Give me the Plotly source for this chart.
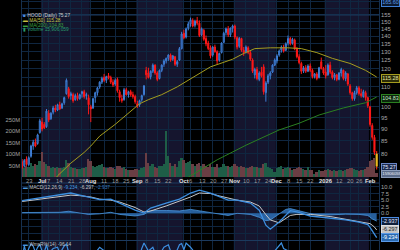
import math
import plotly.graph_objects as go

# ---- data: trading days 2025-06-17 .. 2026-02-05 (index 0..160) ----
opens = [77, 75.5, 78, 76, 79, 83, 84.5, 84, 88.5, 93, 92, 91, 97, 94.5, 97.5, 99.5, 98.5, 101, 99.5, 102,
         106.5, 109, 105.5, 106, 103.5, 105.5, 104, 106.5, 107.5, 105.5, 104.5, 100, 99.5, 104.5, 107, 110, 112.5, 115, 113.5, 116,
         115, 112.5, 111.5, 114, 107.5, 104, 103.5, 108.5, 106, 107.5, 106, 105, 101.5, 101, 103.5, 106, 119, 117.5, 115.5, 118.5,
         122, 117.5, 114.5, 119, 122.5, 124.5, 126, 128, 125.5, 127, 122.5, 125, 132, 142, 139.5, 145.5, 148.5, 151, 147.5, 151,
         149, 141, 144, 138.5, 135.5, 132.5, 128, 133, 130, 125, 129.5, 136, 142.5, 145, 141, 145.5, 147, 139, 133.5, 138.5,
         131, 130, 132.5, 129.5, 125, 116.5, 119.5, 114, 118, 121, 107, 112.5, 116, 118, 122, 124.5, 128, 131, 133, 131,
         135.5, 138.5, 135.5, 137.5, 132, 127, 123, 118.5, 120.5, 118.5, 121.5, 119, 115.5, 117, 115, 124, 120, 118, 116.5, 122,
         118, 115, 116.5, 114, 117.5, 119, 114.5, 117, 110.5, 107, 104, 107, 109.5, 106.5, 105, 107, 104.5, 100, 91.5, 86.5,
         80]
highs = [78, 78, 79, 79, 83.5, 85.5, 86, 88, 94.5, 95, 93, 99, 98.5, 97.5, 100.5, 101, 101.5, 102.5, 102, 105,
         114.5, 110, 107.5, 107, 106.5, 107, 106.5, 108, 108.5, 107, 106, 101, 104.5, 107.5, 110, 113, 115.5, 117, 116, 117.5,
         116, 114, 114.5, 115, 108.5, 106, 109.5, 109.5, 108, 108.5, 107.5, 106, 103, 103.5, 106, 111, 121, 120.5, 119, 123,
         122.5, 118.5, 119.5, 122.5, 125.5, 126.5, 128.5, 129, 128, 127.5, 125, 133, 143, 144.5, 146, 150, 153, 152.5, 151.5, 153.5,
         151, 146, 145, 140.5, 137, 134, 133.5, 134.5, 131, 129.5, 136, 143, 146, 147, 146, 148, 148, 140, 139.5, 139,
         133, 134, 133.5, 130.5, 126, 120.5, 121, 118.5, 121, 122.5, 113, 117, 118.5, 122.5, 126, 128.5, 131.5, 134, 134.5, 136,
         140.5, 139.5, 139, 138.5, 133, 128.5, 124, 121.5, 122, 122.5, 123, 120, 117.5, 118, 121, 126.5, 121, 122, 123, 124,
         119, 117.5, 117, 118, 120.5, 119.5, 118.5, 117.5, 111.5, 107.5, 108, 110.5, 110.5, 109, 108.5, 108, 105, 100.5, 92.5, 87.5,
         81]
lows = [74.5, 75, 75.5, 75.5, 78.5, 81.5, 82.5, 83.5, 88, 89, 90, 90.5, 93, 94, 96.5, 97.5, 98, 98.5, 99, 101,
        106, 104, 103.5, 102, 103, 103, 103.5, 104.5, 104, 103.5, 96.5, 93, 99, 102, 105.5, 109, 111.5, 112.5, 112, 114,
        111.5, 110, 110.5, 107, 102.5, 102, 103, 105.5, 104.5, 105, 104, 101.5, 99.5, 100, 102.5, 105.5, 114, 114.5, 114, 117.5,
        116.5, 113, 114, 118, 121, 123, 124.5, 124, 124.5, 121.5, 121, 124.5, 131.5, 138, 138.5, 144, 146.5, 146, 146, 147.5,
        139.5, 140, 137, 133.5, 131, 126, 127, 129.5, 122.5, 124, 129, 135.5, 140.5, 139.5, 139.5, 142.5, 138, 131.5, 132.5, 130,
        127.5, 129, 128.5, 124.5, 117.5, 114.5, 113.5, 113, 115, 106, 102.5, 111.5, 114, 117.5, 121.5, 123, 127, 129.5, 129.5, 130.5,
        134, 134, 134.5, 131, 126, 122.5, 117, 117.5, 117.5, 118, 118, 114.5, 114.5, 113.5, 114.5, 119.5, 116.5, 114.5, 116, 117,
        114, 113.5, 113, 113.5, 115.5, 113.5, 113, 110.5, 106, 103, 103, 106, 105.5, 104.5, 104.5, 103, 99.5, 91, 85.5, 79.5,
        74.2]
closes = [75, 77.5, 76, 78.5, 83, 84.5, 83, 87.5, 93.6, 90, 90.5, 98, 94, 97, 99.5, 98.5, 101, 99, 101.5, 104.5,
          113.5, 105, 106.5, 103, 105.5, 104, 106, 107.5, 105, 106, 101, 99, 104, 107, 109.5, 112.5, 114.5, 113.5, 115.5, 115,
          112.5, 111, 113.5, 108, 104.5, 103, 108.5, 106, 107.5, 106, 105, 102.5, 100.5, 103, 105.5, 110.5, 116.5, 115, 118.5, 122,
          117.5, 114, 119, 122, 124.5, 126, 128, 125, 127.5, 122.5, 124, 132, 141.5, 139, 145, 148.5, 151.5, 147, 150.5, 149,
          140.5, 145, 138, 135, 132, 127.5, 133, 130, 124.5, 129, 135.5, 142, 145, 141, 145.5, 147, 139.5, 133, 138.5, 131,
          129.5, 133, 129.5, 125.5, 118.5, 119.5, 114.5, 117.5, 116, 107.5, 112, 116, 117.5, 122, 125, 127.5, 130.5, 133, 130.5, 135,
          138.5, 135, 138, 132, 127, 123.5, 118.5, 120.5, 118.5, 121.5, 119, 115.5, 117, 114.5, 120.5, 120, 117.5, 116, 122, 118,
          115, 116.5, 114, 117.5, 119.5, 114.5, 117.5, 111.5, 107, 104, 107, 109.5, 106.5, 105.5, 107.5, 104.5, 100.5, 92, 86.5, 80.5,
          75.27]
volumes_m = [45, 38, 50, 42, 60, 48, 55, 52, 70,
             110, 65, 58, 48, 40, 45, 38, 42,
             40, 38, 45, 75, 60, 45, 40, 38, 35, 36, 40, 38, 45, 80,
             70, 50, 45, 48, 52, 55, 45, 40, 38, 42, 40, 36, 50, 48, 40, 42, 35, 30, 32, 30, 33,
             35, 32, 38, 45, 105, 60, 48, 55, 45, 40, 48, 50, 55, 200, 90, 60, 50, 55, 45, 70, 85,
             75, 60, 65, 70, 55, 50, 55, 60, 50, 55, 48, 45, 55, 45, 45, 55, 40, 42, 58, 50, 48, 42, 50,
             55, 50, 45, 48, 45, 40, 38, 42, 50, 45, 42, 40, 38, 55, 60, 45, 38, 35, 20,
             40, 45, 48, 35, 40, 45, 38, 32, 36, 40, 42, 38, 35, 30, 45, 32, 30, 15, 22, 30, 28, 25,
             30, 35, 32, 28, 30, 25, 32, 30, 28, 30, 35, 40, 38, 35, 30, 28, 32, 30, 36, 45, 70, 75, 85, 15.906059]

tick_idx = [3, 9, 12, 17, 22, 27, 31, 37, 42, 47, 52, 56, 61, 66, 73, 76, 81, 86, 91, 96, 101, 106, 111,
            115, 120, 125, 130, 137, 143, 148, 152, 157]
tick_lbl = ["23", "Jul", "7", "14", "21", "28", "Aug", "11", "18", "25", "Sep", "8", "15", "22", "Oct", "6",
            "13", "20", "27", "Nov", "10", "17", "24", "Dec", "8", "15", "22", "2026", "12", "20", "26", "Feb"]
month_lbls = {"Jul", "Aug", "Sep", "Oct", "Nov", "Dec", "2026", "Feb"}
shaded_months = [(9, 31), (52, 73), (96, 115), (137, 157)]

ma50_idx = [15, 16, 22, 28, 31, 35, 42, 48, 53, 57, 63, 70, 78, 85, 95, 100, 105, 112, 120, 126, 133, 140, 148, 155, 160]
ma50_val = [71.0, 72.0, 76.5, 80.5, 83.0, 87.0, 92.0, 97.0, 101.5, 103.5, 106.0, 110.0, 115.5, 121.0, 125.5, 129.0,
            132.0, 132.5, 132.5, 132.0, 129.5, 126.0, 123.0, 119.0, 115.28]
ma200_idx = [74, 76, 88, 101, 116, 125, 134, 145, 155, 160]
ma200_val = [71.0, 72.0, 77.7, 83.3, 89.6, 92.5, 96.2, 99.5, 102.0, 104.83]

macd_idx = [0, 8, 17, 22, 26, 31, 35, 40, 44, 51, 55, 58, 65, 71, 76, 80, 85, 89, 93, 97, 103, 107, 110, 112,
            116, 121, 124, 130, 139, 146, 152, 156, 157, 158, 159, 160]
macd_val = [4.8, 5.8, 6.9, 7.7, 6.9, 5.8, 5.2, 5.4, 3.9, 1.25, 0.1, 2.0, 3.9, 5.4, 7.7, 8.8, 7.7, 6.2, 5.0, 5.0,
            3.9, 1.2, -4.5, -6.0, -3.3, 1.0, 0.6, -1.0, -1.8, -2.5, -3.3, -4.3, -5.3, -6.6, -8.0, -9.234]
signal_val = [4.5, 5.4, 6.5, 6.9, 6.7, 6.2, 5.4, 5.0, 4.3, 2.2, 0.5, 0.9, 2.8, 4.5, 6.2, 7.7, 7.5, 6.6, 5.8, 5.0,
              4.3, 2.8, -0.5, -2.5, -3.6, -0.8, -0.4, -0.4, -1.2, -2.2, -2.9, -3.5, -3.9, -4.5, -5.2, -6.297]
hist_idx = [0, 8, 17, 21, 26, 30, 35, 40, 44, 51, 55, 58, 65, 71, 76, 80, 85, 89, 93, 97, 103, 107, 110, 112,
            116, 119, 121, 124, 128, 132, 139, 146, 152, 156, 158, 160]
hist_val = [0.3, 0.4, 0.4, 0.8, 0.2, -0.4, -0.2, 0.4, -0.4, -1.0, -0.4, 1.1, 1.1, 0.9, 1.5, 1.0, 0.2, -0.4, -0.8, 0.0,
            -0.4, -1.5, -2.8, -2.5, -0.4, 1.5, 1.8, 1.2, 0.2, -0.5, -0.6, -0.3, -0.4, -0.8, -2.1, -2.937]

wr_idx = [0, 1, 2, 3, 4, 5, 6, 7, 8, 9, 10, 11, 12, 14, 16, 17, 19, 20, 21, 23, 27, 30, 32, 35, 38, 43, 48, 52,
          54, 55, 57, 59, 61, 64, 66, 67, 69, 71, 72, 73, 74, 76, 80, 85, 90, 95, 100, 109, 113, 117, 118, 123,
          131, 135, 140, 144, 149, 154, 160]
wr_val = [-70, -20, -55, -30, -12, -20, -45, -25, -14, -40, -45, -15, -50, -30, -25, -50, -20, -12, -45, -60, -40,
          -80, -60, -25, -45, -80, -70, -90, -30, -8, -40, -25, -70, -25, -15, -40, -55, -15, -10, -35, -8, -25,
          -70, -95, -50, -40, -85, -95, -50, -8, -30, -60, -90, -55, -80, -60, -95, -70, -96.14]

price_ticks = [75, 80, 85, 90, 95, 100, 105, 110, 115, 120, 125, 130, 135, 140, 145, 150, 155, 160, 165]
price_hidden = {75, 105, 115, 160, 165}
vol_ticks_m = [50, 100, 150, 200, 250]
macd_ticks = [-10, -7.5, -5, -2.5, 0, 2.5, 5, 7.5, 10]

# ---- layout geometry (pixels) ----
W, H = 400, 250
L, R = 21, 380
PW = R - L
MAIN_BOTTOM = 177
DATE_ROW = 180.5
MACD_TOP, MACD_BOTTOM = 183, 240
WR_TOP = 241


def pxx(x):
    return (x - L) / PW


def pxy(y):
    return 1 - y / H


N = len(closes)
days = list(range(N))
GRID = '#0f2640'
LBL = '#a6a6a6'
FONT = 'Liberation Sans, Arial, sans-serif'

fig = go.Figure()

# volume (base axis, left)
vol_colors = ['#1e5e47' if c >= o else '#6a3e44' for o, c in zip(opens, closes)]
fig.add_trace(go.Bar(x=days, y=[v * 1e6 for v in volumes_m], marker=dict(color=vol_colors, line_width=0),
                     width=0.8, xaxis='x', yaxis='y', hoverinfo='skip'))

# candles (overlaying price axis, right)
fig.add_trace(go.Candlestick(x=days[:-1], open=opens[:-1], high=highs[:-1], low=lows[:-1], close=closes[:-1],
                             xaxis='x', yaxis='y2', whiskerwidth=0,
                             increasing=dict(line=dict(color='#3f7fd6', width=1), fillcolor='#1b3a6a'),
                             decreasing=dict(line=dict(color='#ff1818', width=1), fillcolor='#ff1818')))
# current (highlighted) bar
fig.add_trace(go.Scatter(x=[days[-1], days[-1]], y=[lows[-1], highs[-1]], mode='lines',
                         line=dict(color='#ff3010', width=1), xaxis='x', yaxis='y2'))
fig.add_trace(go.Scatter(x=[days[-1], days[-1]], y=[opens[-1], closes[-1]], mode='lines',
                         line=dict(color='#e8b820', width=2.2), xaxis='x', yaxis='y2'))

fig.add_trace(go.Scatter(x=ma50_idx, y=ma50_val, mode='lines', line=dict(color='#a49c1e', width=1),
                         xaxis='x', yaxis='y2'))
fig.add_trace(go.Scatter(x=ma200_idx, y=ma200_val, mode='lines', line=dict(color='#2b8020', width=1),
                         xaxis='x', yaxis='y2'))

# MACD panel
fig.add_trace(go.Scatter(x=hist_idx, y=hist_val, mode='lines', fill='tozeroy', fillcolor='rgba(46,112,182,0.85)',
                         line=dict(color='#4a96dc', width=0.8), xaxis='x2', yaxis='y3'))
fig.add_trace(go.Scatter(x=macd_idx, y=signal_val, mode='lines', line=dict(color='#c8c8c8', width=1),
                         xaxis='x2', yaxis='y3'))
fig.add_trace(go.Scatter(x=macd_idx, y=macd_val, mode='lines', line=dict(color='#3d8fe0', width=1.3),
                         xaxis='x2', yaxis='y3'))

# Williams %R panel
fig.add_trace(go.Scatter(x=wr_idx, y=wr_val, mode='lines', line=dict(color='#3d8fe0', width=1.2),
                         xaxis='x3', yaxis='y4'))

shapes = []
for a, b in shaded_months:
    shapes.append(dict(type='rect', xref='x', yref='paper', x0=a - 0.5, x1=b - 0.5, y0=0, y1=1,
                       fillcolor='#15152e', line_width=0, layer='below'))
for yy in [15, MACD_TOP, 240.5]:
    shapes.append(dict(type='line', xref='paper', yref='paper', x0=0, x1=1, y0=pxy(yy), y1=pxy(yy),
                       line=dict(color='#1c3a5e', width=1)))
for xx in [L + 0.5, R - 0.5]:
    shapes.append(dict(type='line', xref='paper', yref='paper', x0=pxx(xx), x1=pxx(xx), y0=0, y1=1,
                       line=dict(color='#16304e', width=1)))

ann = []

# date labels under the price panel
for ti, tl in zip(tick_idx, tick_lbl):
    is_month = tl in month_lbls
    ann.append(dict(xref='x', yref='paper', x=ti, y=pxy(DATE_ROW), text='<b>%s</b>' % tl if is_month else tl,
                    showarrow=False, xanchor='center', yanchor='middle', borderpad=0,
                    font=dict(family=FONT, size=5.8, color='#e0e0e0' if is_month else '#9a9a9a')))


def text_at(x, y, txt, color, size=4.8):
    ann.append(dict(xref='paper', yref='paper', x=pxx(x), y=pxy(y), text=txt, showarrow=False,
                    xanchor='left', yanchor='middle', borderpad=0,
                    font=dict(family=FONT, size=size, color=color)))


text_at(21.5, 15.5, '<span style="color:#4a8ae0">■</span> HOOD (Daily) 75.27', '#d0d0d0')
text_at(21.5, 20.5, '<span style="color:#c8c040">▬</span> MA(50) 115.28', '#c8c040')
text_at(21.5, 25.2, '<span style="color:#3aa040">▬</span> MA(200) 104.83', '#3aa040')
text_at(21.5, 29.9, '<span style="color:#2a9a6a">▮</span> Volume 15,906,059', '#2a9a6a')
text_at(21.5, 187.0, '<span style="color:#4a96dc">▬</span> MACD(12,26,9) <span style="color:#4a9ae0">-9.234,</span> '
        '<span style="color:#c8c8c8">-6.297,</span> <span style="color:#3a7bbf">-2.937</span>', '#c0c0c0')
text_at(21.5, 244.0, '<span style="color:#4a96dc">▬</span> WmsR%(14) -96.14', '#c0c0c0')


def box(y_px, txt, bg, border, color, size=5.4, x_px=R + 1):
    ann.append(dict(xref='paper', yref='paper', x=pxx(x_px), y=pxy(y_px), text=txt, showarrow=False,
                    xanchor='left', yanchor='middle', bgcolor=bg, bordercolor=border, borderwidth=1, borderpad=0.3,
                    font=dict(family=FONT, size=size, color=color)))


box(2.5, '165.60', '#0c1a30', '#3f7fd6', '#5a9ae8')
box(78, '115.28', '#2c2c08', '#a49c1e', '#e8e8a0')
box(98, '104.83', '#0c260c', '#2b8020', '#c8e8c8')
box(167.5, '75.27', '#1a2a50', '#6a86c6', '#e6ecff')
box(174, '15906059', '#5a6a88', '#8a9ab8', '#eef0f6', size=4.2, x_px=R + 0.5)
box(221, '-2.937', '#10203a', '#4a8ae0', '#e0e6ff')
box(229, '-6.297', '#c4c4c4', '#e0e0e0', '#202020')
box(237, '-9.234', '#2a6ab0', '#5a9ae8', '#ffffff')

xcommon = dict(range=[-0.5, N + 0.5], tickvals=tick_idx, showgrid=True, gridcolor=GRID, gridwidth=1,
               zeroline=False, showline=False, ticks='', showticklabels=False)

log_lo = math.log10(71.6)
log_hi = math.log10(166.4)

fig.update_layout(
    width=W, height=H, margin=dict(l=L, r=W - R, t=0, b=0),
    paper_bgcolor='#000000', plot_bgcolor='#000000', showlegend=False, bargap=0,
    font=dict(family=FONT, size=6, color=LBL),
    xaxis=dict(**xcommon, anchor='y', domain=[0, 1], rangeslider=dict(visible=False)),
    xaxis2=dict(**xcommon, anchor='y3', domain=[0, 1], matches='x'),
    xaxis3=dict(**xcommon, anchor='y4', domain=[0, 1], matches='x'),
    yaxis=dict(domain=[pxy(MAIN_BOTTOM), 1], side='left', range=[0, 776e6],
               tickvals=[v * 1e6 for v in vol_ticks_m], ticktext=['%dM' % v for v in vol_ticks_m],
               showgrid=False, zeroline=False, ticks='', tickfont=dict(size=5.8, color='#a0a0a0')),
    yaxis2=dict(overlaying='y', side='right', type='log', range=[log_lo, log_hi], anchor='x',
                tickvals=price_ticks, ticktext=['' if p in price_hidden else str(p) for p in price_ticks],
                showgrid=True, gridcolor=GRID, zeroline=False, ticks='', tickfont=dict(size=5.8, color='#a8a8a8')),
    yaxis3=dict(domain=[pxy(MACD_BOTTOM), pxy(MACD_TOP)], side='right', range=[-10.1, 11.5], anchor='x2',
                tickvals=macd_ticks, ticktext=['' if t < 0 else '%.1f' % t for t in macd_ticks],
                showgrid=True, gridcolor=GRID, zeroline=False, ticks='', tickfont=dict(size=5.8, color='#a8a8a8')),
    yaxis4=dict(domain=[0, pxy(WR_TOP)], side='right', range=[-36, 0], anchor='x3', showticklabels=False,
                showgrid=False, zeroline=False),
    shapes=shapes, annotations=ann,
)

fig.write_html("out.html")
